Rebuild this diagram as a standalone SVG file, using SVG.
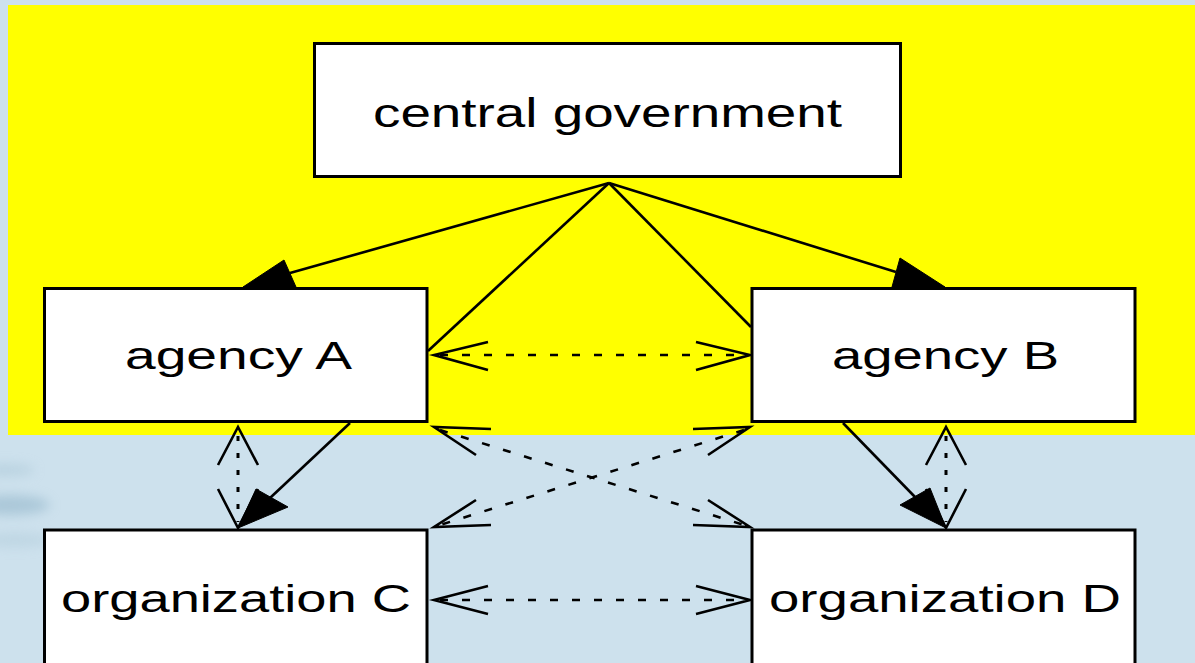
<svg xmlns="http://www.w3.org/2000/svg" width="1195" height="663" viewBox="0 0 1195 663">
  <style>
    .box { fill: #ffffff; stroke: #000000; stroke-width: 3; }
    .lbl { font-family: "Liberation Sans", Arial, sans-serif; fill: #000000; }
    .solid { fill: none; stroke: #000000; stroke-width: 2.6; }
    .dash { fill: none; stroke: #000000; stroke-width: 2.6; stroke-dasharray: 8 14; }
    .dot { fill: none; stroke: #000000; stroke-width: 3; stroke-dasharray: 5 12; }
    .open { fill: none; stroke: #000000; stroke-width: 2.6; stroke-linejoin: miter; }
    .head { fill: #000000; stroke: #000000; stroke-width: 1; }
  </style>
  <defs>
    <filter id="soft" x="-50%" y="-50%" width="200%" height="200%">
      <feGaussianBlur stdDeviation="6"/>
    </filter>
  </defs>
  <rect x="0" y="0" width="1195" height="663" fill="#cde1ed"/>
  <g filter="url(#soft)" opacity="0.55">
    <ellipse cx="10" cy="505" rx="40" ry="10" fill="#8fb3c8"/>
    <ellipse cx="5" cy="470" rx="30" ry="6" fill="#a9c6d6"/>
    <ellipse cx="15" cy="540" rx="35" ry="7" fill="#b2cddc"/>
  </g>
  <rect x="8" y="5" width="1187" height="430" fill="#ffff00"/>

  <g id="connectors">
    <!-- central government -> agency A (filled arrow) -->
    <line class="solid" x1="609" y1="183" x2="290" y2="273"/>
    <polygon class="head" points="243,287 284,260 296,287"/>
    <!-- central government -> agency A side -->
    <line class="solid" x1="609" y1="183" x2="428" y2="351"/>
    <!-- central government -> agency B side -->
    <line class="solid" x1="609" y1="183" x2="751" y2="327"/>
    <!-- central government -> agency B (filled arrow) -->
    <line class="solid" x1="609" y1="183" x2="896" y2="272"/>
    <polygon class="head" points="945,287 892,287 900,258"/>

    <!-- agency A <-> agency B -->
    <line class="dash" x1="440" y1="355" x2="744" y2="355"/>
    <polyline class="open" points="488,342 434,355 488,370"/>
    <polyline class="open" points="696,342 750,355 696,370"/>

    <!-- organization C <-> organization D -->
    <line class="dash" x1="440" y1="600" x2="744" y2="600"/>
    <polyline class="open" points="488,586 434,600 488,614"/>
    <polyline class="open" points="696,586 750,600 696,614"/>

    <!-- agency A <-> organization D -->
    <line class="dash" x1="440" y1="430" x2="744" y2="525"/>
    <polyline class="open" points="491,429 434,427 476,455"/>
    <polyline class="open" points="693,525 750,527 708,500"/>

    <!-- agency B <-> organization C -->
    <line class="dash" x1="744" y1="430" x2="440" y2="525"/>
    <polyline class="open" points="693,429 750,427 708,455"/>
    <polyline class="open" points="491,525 434,527 476,500"/>

    <!-- agency A -> organization C (filled arrow) -->
    <line class="solid" x1="350" y1="423" x2="270" y2="498"/>
    <polygon class="head" points="238,528 256,489 288,507"/>
    <!-- agency A <-> organization C (dotted) -->
    <line class="dot" x1="238" y1="436" x2="238" y2="522"/>
    <polyline class="open" points="218,465 238,427 258,465"/>
    <polyline class="open" points="218,489 238,528 258,489"/>

    <!-- agency B -> organization D (filled arrow) -->
    <line class="solid" x1="843" y1="423" x2="915" y2="497"/>
    <polygon class="head" points="946,528 900,505 930,488"/>
    <!-- agency B <-> organization D (dotted) -->
    <line class="dot" x1="946" y1="436" x2="946" y2="522"/>
    <polyline class="open" points="926,465 946,427 966,465"/>
    <polyline class="open" points="926,489 946,528 966,489"/>
  </g>

  <g id="central-government">
    <rect class="box" x="314.5" y="43.5" width="586" height="133"/>
    <text class="lbl" x="373" y="127" font-size="40" textLength="469" lengthAdjust="spacingAndGlyphs">central government</text>
  </g>
  <g id="agency-a">
    <rect class="box" x="44.5" y="288.5" width="382.5" height="133"/>
    <text class="lbl" x="125" y="369" font-size="38" textLength="227" lengthAdjust="spacingAndGlyphs">agency A</text>
  </g>
  <g id="agency-b">
    <rect class="box" x="752" y="288.5" width="383" height="133"/>
    <text class="lbl" x="832" y="369" font-size="38" textLength="227" lengthAdjust="spacingAndGlyphs">agency B</text>
  </g>
  <g id="organization-c">
    <rect class="box" x="44.5" y="530" width="382.5" height="150"/>
    <text class="lbl" x="61" y="612" font-size="38" textLength="350" lengthAdjust="spacingAndGlyphs">organization C</text>
  </g>
  <g id="organization-d">
    <rect class="box" x="752" y="530" width="383" height="150"/>
    <text class="lbl" x="769" y="612" font-size="38" textLength="352" lengthAdjust="spacingAndGlyphs">organization D</text>
  </g>
</svg>
